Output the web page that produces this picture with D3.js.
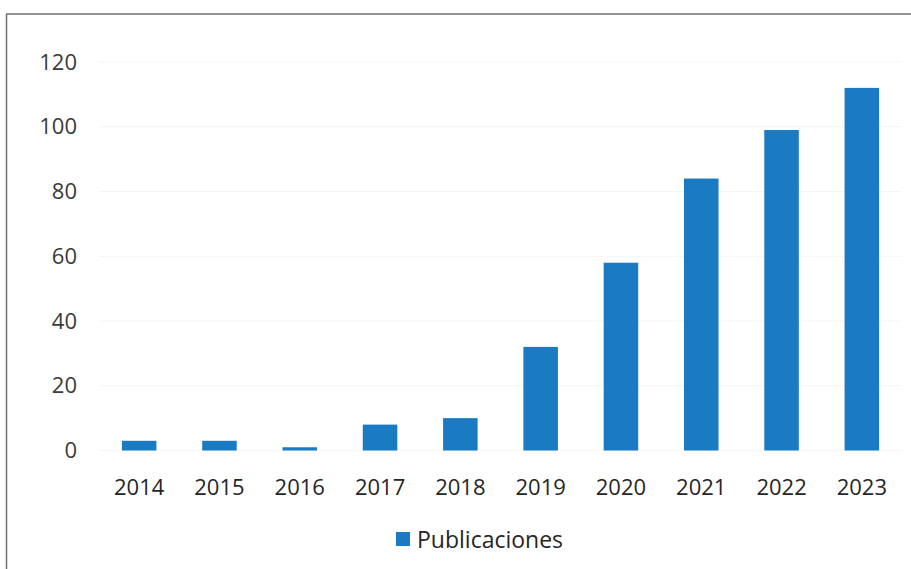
<!DOCTYPE html>
<html>
<head>
<meta charset="utf-8">
<script src="https://cdn.jsdelivr.net/npm/d3@7"></script>
<style>
  body { margin: 0; background: #fff; }
  text { font-family: "Open Sans", "Noto Sans", sans-serif; }
</style>
</head>
<body>
<div class="chart"></div>
<script>
var years = ["2014", "2015", "2016", "2017", "2018", "2019", "2020", "2021", "2022", "2023"];
var publicaciones = [3, 3, 1, 8, 10, 32, 58, 84, 99, 112];
var yTicks = [0, 20, 40, 60, 80, 100, 120];
var seriesName = "Publicaciones";

var svgWidth = 911, svgHeight = 569;

var svg = d3.select(".chart")
  .append("svg")
  .attr("width", svgWidth)
  .attr("height", svgHeight);

// frame (scanned border, only top and left visible)
svg.append("line")
  .attr("x1", 6).attr("x2", svgWidth).attr("y1", 14).attr("y2", 14)
  .attr("stroke", "#6f6f6f").attr("stroke-width", 1.5);
svg.append("line")
  .attr("x1", 6.5).attr("x2", 6.5).attr("y1", 14).attr("y2", svgHeight)
  .attr("stroke", "#6f6f6f").attr("stroke-width", 1.5);

var xScale = d3.scaleBand()
  .domain(years)
  .range([99, 902])
  .paddingInner(0.57)
  .paddingOuter(0.285);

var yScale = d3.scaleLinear()
  .domain([0, 120])
  .range([450.5, 62]);

// faint gridlines
svg.append("g")
  .selectAll("line")
  .data(yTicks)
  .enter()
  .append("line")
  .attr("x1", 99).attr("x2", 902)
  .attr("y1", d => yScale(d)).attr("y2", d => yScale(d))
  .attr("stroke", "#f5f5f5").attr("stroke-width", 1);

// y axis labels
var leftAxis = d3.axisLeft(yScale).tickValues(yTicks).tickSize(0).tickPadding(0);
var yAxisG = svg.append("g")
  .attr("transform", "translate(77, 0)")
  .call(leftAxis);
yAxisG.select(".domain").remove();
yAxisG.selectAll("text")
  .attr("font-family", "'Open Sans', 'Noto Sans', sans-serif")
  .attr("font-size", 22)
  .attr("fill", "#3a3a3a");

// bars
svg.append("g")
  .selectAll("rect")
  .data(publicaciones)
  .enter()
  .append("rect")
  .attr("x", (d, i) => xScale(years[i]))
  .attr("width", xScale.bandwidth())
  .attr("y", d => yScale(d))
  .attr("height", d => yScale(0) - yScale(d))
  .attr("fill", "#1b7bc2");

// x axis labels
var bottomAxis = d3.axisBottom(xScale).tickSize(0).tickPadding(0);
var xAxisG = svg.append("g")
  .attr("transform", "translate(0, 479)")
  .call(bottomAxis);
xAxisG.select(".domain").remove();
xAxisG.selectAll("text")
  .attr("font-family", "'Open Sans', 'Noto Sans', sans-serif")
  .attr("font-size", 22)
  .attr("fill", "#262626");

// legend
var legend = svg.append("g");
legend.append("rect")
  .attr("x", 396).attr("y", 532)
  .attr("width", 14).attr("height", 14)
  .attr("fill", "#1b7bc2");
legend.append("text")
  .attr("x", 417).attr("y", 548)
  .attr("font-size", 23)
  .attr("fill", "#262626")
  .text(seriesName);
</script>
</body>
</html>
